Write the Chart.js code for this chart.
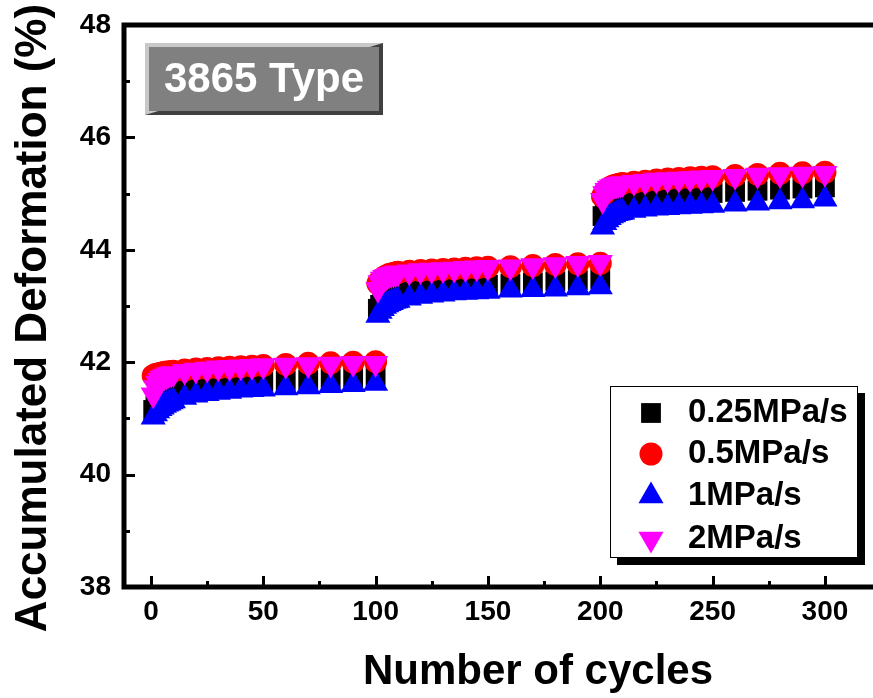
<!DOCTYPE html>
<html>
<head>
<meta charset="utf-8">
<script src="https://cdn.jsdelivr.net/npm/chart.js@4.4.1/dist/chart.umd.min.js"></script>
<style>
  html, body { margin: 0; padding: 0; background: #fff; overflow: hidden; }
</style>
</head>
<body>
<canvas id="deform" width="873" height="698"></canvas>
<script>
const FONT = "'Liberation Sans', Arial, Helvetica, sans-serif";

// sampled cycles of the three loading stages
const cycles = [
  1, 2, 3, 4, 5, 6, 7, 8, 9, 10, 15, 20, 25, 30, 35, 40, 45, 50, 60, 70, 80, 90, 100,
  101, 102, 103, 104, 105, 106, 107, 108, 109, 110, 115, 120, 125, 130, 135, 140, 145, 150, 160, 170, 180, 190, 200,
  201, 202, 203, 204, 205, 206, 207, 208, 209, 210, 215, 220, 225, 230, 235, 240, 245, 250, 260, 270, 280, 290, 300
];

// accumulated deformation (%) for each loading rate
const rate025 = [
  41.15, 41.22, 41.27, 41.31, 41.34, 41.37, 41.39, 41.41, 41.43, 41.45, 41.50, 41.54, 41.57, 41.59, 41.61, 41.62, 41.64, 41.65, 41.67, 41.69, 41.71, 41.73, 41.75,
  42.95, 43.02, 43.07, 43.11, 43.14, 43.16, 43.18, 43.20, 43.21, 43.22, 43.26, 43.29, 43.31, 43.33, 43.35, 43.36, 43.37, 43.38, 43.40, 43.42, 43.44, 43.46, 43.48,
  44.60, 44.68, 44.73, 44.77, 44.80, 44.82, 44.84, 44.85, 44.86, 44.87, 44.90, 44.93, 44.95, 44.97, 44.98, 44.99, 45.00, 45.01, 45.03, 45.05, 45.07, 45.09, 45.11
];
const rate05 = [
  41.76, 41.78, 41.79, 41.80, 41.81, 41.82, 41.82, 41.83, 41.83, 41.84, 41.86, 41.88, 41.89, 41.90, 41.91, 41.92, 41.93, 41.94, 41.96, 41.98, 41.99, 42.00, 42.01,
  43.40, 43.45, 43.49, 43.52, 43.54, 43.56, 43.57, 43.58, 43.59, 43.60, 43.62, 43.63, 43.64, 43.65, 43.66, 43.67, 43.68, 43.69, 43.70, 43.72, 43.74, 43.75, 43.76,
  44.95, 45.03, 45.07, 45.10, 45.12, 45.14, 45.15, 45.16, 45.17, 45.18, 45.20, 45.22, 45.24, 45.26, 45.27, 45.28, 45.29, 45.30, 45.32, 45.34, 45.36, 45.37, 45.38
];
const rate1 = [
  41.02, 41.08, 41.13, 41.17, 41.20, 41.23, 41.25, 41.27, 41.29, 41.31, 41.37, 41.41, 41.44, 41.46, 41.48, 41.50, 41.51, 41.52, 41.54, 41.56, 41.58, 41.60, 41.62,
  42.83, 42.90, 42.95, 42.99, 43.02, 43.04, 43.06, 43.08, 43.09, 43.10, 43.14, 43.17, 43.19, 43.21, 43.23, 43.24, 43.25, 43.26, 43.28, 43.29, 43.30, 43.32, 43.34,
  44.40, 44.48, 44.53, 44.57, 44.60, 44.62, 44.64, 44.65, 44.66, 44.67, 44.70, 44.72, 44.74, 44.75, 44.76, 44.77, 44.78, 44.79, 44.81, 44.83, 44.85, 44.87, 44.90
];
const rate2 = [
  41.42, 41.55, 41.63, 41.68, 41.72, 41.74, 41.76, 41.78, 41.79, 41.80, 41.84, 41.86, 41.88, 41.90, 41.91, 41.92, 41.93, 41.94, 41.95, 41.96, 41.97, 41.98, 41.98,
  43.30, 43.42, 43.48, 43.51, 43.53, 43.55, 43.56, 43.57, 43.58, 43.59, 43.61, 43.63, 43.64, 43.65, 43.66, 43.67, 43.68, 43.69, 43.70, 43.72, 43.74, 43.76, 43.78,
  44.88, 45.00, 45.06, 45.10, 45.12, 45.14, 45.15, 45.16, 45.17, 45.18, 45.20, 45.22, 45.24, 45.25, 45.26, 45.27, 45.28, 45.29, 45.31, 45.33, 45.34, 45.35, 45.36
];

const seriesNames = ['0.25MPa/s', '0.5MPa/s', '1MPa/s', '2MPa/s'];
const seriesColors = ['#000000', '#ff0000', '#0000ff', '#ff00ff'];
const xLabelTicks = [0, 50, 100, 150, 200, 250, 300];
const yLabelTicks = [38, 40, 42, 44, 46, 48];

const markers = [
  { pointStyle: 'rect', radius: 14, rotation: 0 },
  { pointStyle: 'circle', radius: 11.5, rotation: 0 },
  { pointStyle: 'triangle', radius: 14.5, rotation: 0 },
  { pointStyle: 'triangle', radius: 14.5, rotation: 180 }
];

function toPoints(values) {
  return values.map((v, i) => ({ x: cycles[i], y: v }));
}

const allValues = [rate025, rate05, rate1, rate2];
// magenta on top, then blue, red, black at the bottom
const drawOrder = [3, 2, 1, 0];

const datasets = allValues.map((vals, i) => ({
  label: seriesNames[i],
  data: toPoints(vals),
  showLine: false,
  order: drawOrder[i],
  pointStyle: markers[i].pointStyle,
  pointRadius: markers[i].radius,
  pointRotation: markers[i].rotation,
  pointBackgroundColor: seriesColors[i],
  pointBorderColor: seriesColors[i],
  pointBorderWidth: 0
}));

// axes, inward ticks and the top frame line
const frame = {
  id: 'frame',
  afterDatasetsDraw(chart) {
    const { ctx, chartArea: a, scales: { x, y } } = chart;
    ctx.save();
    ctx.strokeStyle = '#000';
    ctx.lineWidth = 5;
    ctx.lineCap = 'square';
    ctx.beginPath();
    ctx.moveTo(a.right + 10, a.top);
    ctx.lineTo(a.left, a.top);
    ctx.lineTo(a.left, a.bottom);
    ctx.lineTo(a.right + 10, a.bottom);
    ctx.stroke();

    ctx.lineWidth = 3;
    ctx.lineCap = 'butt';
    ctx.beginPath();
    x.ticks.forEach(t => {
      const px = Math.round(x.getPixelForValue(t.value)) + 0.5;
      const len = xLabelTicks.includes(t.value) ? 11 : 6;
      ctx.moveTo(px, a.bottom);
      ctx.lineTo(px, a.bottom - len);
    });
    y.ticks.forEach(t => {
      if (t.value === y.max || t.value === y.min) return;
      const py = Math.round(y.getPixelForValue(t.value)) + 0.5;
      const len = yLabelTicks.includes(t.value) ? 11 : 6;
      ctx.moveTo(a.left, py);
      ctx.lineTo(a.left + len, py);
    });
    ctx.stroke();
    ctx.restore();
  }
};

// axis titles, the type label and the legend box
const decor = {
  id: 'decor',
  afterDraw(chart) {
    const { ctx } = chart;
    ctx.save();

    // axis titles
    ctx.fillStyle = '#000';
    ctx.font = 'bold 42px ' + FONT;
    ctx.textAlign = 'center';
    ctx.textBaseline = 'alphabetic';
    ctx.fillText('Number of cycles', 538, 684);
    ctx.save();
    ctx.translate(46, 318);
    ctx.rotate(-Math.PI / 2);
    ctx.font = 'bold 44px ' + FONT;
    ctx.fillText('Accumulated Deformation (%)', 0, 0);
    ctx.restore();

    // bevelled type label
    const bx = 145, by = 43, bw = 238, bh = 72, bev = 4;
    ctx.fillStyle = '#c8c8c8';
    ctx.fillRect(bx, by, bw, bh);
    ctx.fillStyle = '#404040';
    ctx.beginPath();
    ctx.moveTo(bx + bw, by);
    ctx.lineTo(bx + bw, by + bh);
    ctx.lineTo(bx, by + bh);
    ctx.closePath();
    ctx.fill();
    ctx.fillStyle = '#808080';
    ctx.fillRect(bx + bev, by + bev, bw - 2 * bev, bh - 2 * bev);
    ctx.fillStyle = '#fff';
    ctx.font = 'bold 42px ' + FONT;
    ctx.textAlign = 'center';
    ctx.textBaseline = 'middle';
    ctx.fillText('3865 Type', bx + bw / 2, by + bh / 2 + 1);

    // legend with drop shadow
    const lx = 610, ly = 386, lw = 248, lh = 172, sh = 7;
    ctx.fillStyle = '#000';
    ctx.fillRect(lx + sh, ly + sh, lw, lh);
    ctx.fillStyle = '#fff';
    ctx.fillRect(lx, ly, lw, lh);
    ctx.strokeStyle = '#000';
    ctx.lineWidth = 1;
    ctx.strokeRect(lx + 0.5, ly + 0.5, lw - 1, lh - 1);

    const rowY = [413, 454, 496, 539];
    seriesNames.forEach((name, i) => {
      const m = markers[i];
      ctx.fillStyle = seriesColors[i];
      Chart.helpers.drawPoint(ctx, {
        pointStyle: m.pointStyle,
        radius: m.radius,
        rotation: m.rotation,
        borderWidth: 0
      }, 651, rowY[i]);
      ctx.fillStyle = '#000';
      ctx.font = 'bold 33px ' + FONT;
      ctx.textAlign = 'left';
      ctx.textBaseline = 'middle';
      ctx.fillText(name, 688, rowY[i]);
    });
    ctx.restore();
  }
};

new Chart(document.getElementById('deform'), {
  type: 'scatter',
  data: { datasets },
  plugins: [frame, decor],
  options: {
    responsive: false,
    animation: false,
    devicePixelRatio: 1,
    layout: { autoPadding: false, padding: { top: 25, right: 0, left: 0, bottom: 0 } },
    plugins: {
      legend: { display: false },
      tooltip: { enabled: false }
    },
    scales: {
      x: {
        type: 'linear',
        min: -12,
        max: 321.4,
        grid: { display: false, drawTicks: false },
        border: { display: false },
        ticks: {
          stepSize: 25,
          includeBounds: false,
          autoSkip: false,
          maxRotation: 0,
          padding: 8,
          color: '#000',
          font: { family: FONT, size: 28, weight: 'bold' },
          callback: v => (xLabelTicks.includes(v) ? String(v) : '')
        },
        afterFit: s => { s.height = 111; s.paddingLeft = 0; s.paddingRight = 0; }
      },
      y: {
        type: 'linear',
        min: 38,
        max: 48,
        grid: { display: false, drawTicks: false },
        border: { display: false },
        ticks: {
          stepSize: 1,
          autoSkip: false,
          padding: 13,
          color: '#000',
          font: { family: FONT, size: 28, weight: 'bold' },
          callback: v => (yLabelTicks.includes(v) ? String(v) : '')
        },
        afterFit: s => { s.width = 124; s.paddingTop = 0; s.paddingBottom = 0; }
      }
    }
  }
});
</script>
</body>
</html>
